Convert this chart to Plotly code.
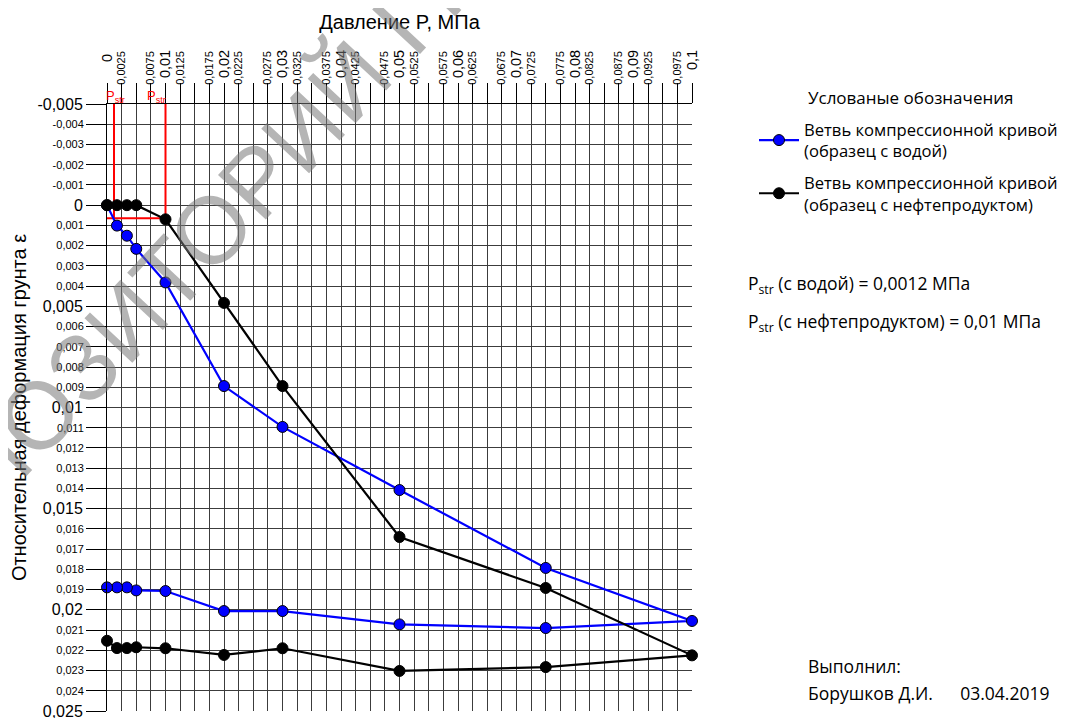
import plotly.graph_objects as go

# ---------------- data ----------------
pressure = [0, 0.0017, 0.0034, 0.005, 0.01, 0.02, 0.03, 0.05, 0.075, 0.1,
            0.075, 0.05, 0.03, 0.02, 0.01, 0.005, 0.0034, 0.0017, 0]
eps_water = [0, 0.00101, 0.00151, 0.00216, 0.00382, 0.00894, 0.01096, 0.01408, 0.01793, 0.02055,
             0.0209, 0.02072, 0.02006, 0.02006, 0.01907, 0.01904, 0.01889, 0.01889, 0.01889]
eps_oil = [0, 0, 0, 0, 0.0007, 0.00483, 0.00894, 0.0164, 0.01892, 0.02225,
           0.02283, 0.02302, 0.0219, 0.02223, 0.0219, 0.02185, 0.02189, 0.02189, 0.02153]

pstr_water = 0.0012
pstr_oil = 0.01
pstr_eps = 0.00065

name_water = "Ветвь компрессионной кривой<br>(образец с водой)"
name_oil = "Ветвь компрессионной кривой<br>(образец с нефтепродуктом)"

x_title = "Давление P, МПа"
y_title = "Относительная деформация грунта ε"

# tick definitions
x_ticks = [round(i * 0.0025, 4) for i in range(41)]
y_ticks = [round(-0.005 + i * 0.001, 3) for i in range(31)]


def fmt(v):
    s = ("%.4f" % v).rstrip("0").rstrip(".")
    if s in ("-0", ""):
        s = "0"
    return s.replace(".", ",")


x_small_text = [fmt(v) if (i % 2 == 1) else "" for i, v in enumerate(x_ticks)]
x_big_vals = [v for i, v in enumerate(x_ticks) if i % 4 == 0]
x_big_text = []
for v in x_big_vals:
    t = fmt(v)
    pad = {1: 4, 3: 2}.get(len(t), 0)
    x_big_text.append("\u00a0" * pad + t)

y_small_text = [("" if (i % 5 == 0) else fmt(v)) for i, v in enumerate(y_ticks)]
y_big_vals = [v for i, v in enumerate(y_ticks) if i % 5 == 0]
y_big_text = [fmt(v) for v in y_big_vals]

# ---------------- layout geometry helpers ----------------
# the page body has an 8px margin; figure is sized so the plot lands where the reference has it
OFF = 8
W, H = 1071 - OFF, 718 - OFF
L, T = 107 - OFF, 104 - OFF
PW, PH = 585, 607
R, B = W - L - PW, H - T - PH


def px(xpix):  # page pixel -> paper x
    return (xpix - OFF - L) / PW


def py(ypix):  # page pixel -> paper y
    return (T + PH - (ypix - OFF)) / PH


AX_FONT = "Liberation Sans, Arial, sans-serif"
TXT_FONT = "Open Sans, sans-serif"

fig = go.Figure()

# Pstr marker lines (red)
fig.add_trace(go.Scatter(x=[pstr_water, pstr_water], y=[-0.005, pstr_eps], mode="lines",
                         line=dict(color="#ff0000", width=2), showlegend=False, hoverinfo="skip"))
fig.add_trace(go.Scatter(x=[pstr_oil, pstr_oil], y=[-0.005, pstr_eps], mode="lines",
                         line=dict(color="#ff0000", width=2), showlegend=False, hoverinfo="skip"))
fig.add_trace(go.Scatter(x=[0, pstr_oil], y=[pstr_eps, pstr_eps], mode="lines",
                         line=dict(color="#ff0000", width=2), showlegend=False, hoverinfo="skip",
                         cliponaxis=False))

fig.add_trace(go.Scatter(x=pressure, y=eps_water, mode="lines+markers", name=name_water,
                         legendgroup="w",
                         line=dict(color="#0000ff", width=2.2),
                         marker=dict(size=11, color="#0000ff", line=dict(color="#000000", width=1)),
                         cliponaxis=False))
fig.add_trace(go.Scatter(x=pressure, y=eps_oil, mode="lines+markers", name=name_oil,
                         legendgroup="o",
                         line=dict(color="#000000", width=2.2),
                         marker=dict(size=11, color="#000000", line=dict(color="#000000", width=1)),
                         cliponaxis=False))

# helper trace for the overlay axes
fig.add_trace(go.Scatter(x=[None], y=[None], xaxis="x2", yaxis="y2", showlegend=False,
                         hoverinfo="skip"))

grid_col = "#3c3c3c"

fig.update_layout(
    width=W, height=H,
    margin=dict(l=L, r=R, t=T, b=B, autoexpand=False),
    paper_bgcolor="white", plot_bgcolor="white",
    showlegend=True,
    xaxis=dict(side="top", range=[0, 0.1], tickmode="array", tickvals=x_ticks,
               ticktext=x_small_text, tickangle=-90, ticks="outside", ticklen=20,
               tickcolor="#000000", tickwidth=1, ticklabelstandoff=-4,
               ticklabeloverflow="allow",
               tickfont=dict(family=AX_FONT, size=11, color="#000000"),
               showgrid=True, gridcolor=grid_col, gridwidth=1, zeroline=False,
               showline=True, linecolor="#000000", linewidth=1,
               title=dict(text=x_title, font=dict(family=AX_FONT, size=20, color="#000000"),
                          standoff=16),
               automargin=False),
    xaxis2=dict(side="top", overlaying="x", range=[0, 0.1], tickmode="array",
                tickvals=x_big_vals, ticktext=x_big_text, tickangle=-90, ticks="outside",
                ticklen=20, tickcolor="rgba(0,0,0,0)", ticklabelstandoff=2,
                ticklabeloverflow="allow",
                tickfont=dict(family=AX_FONT, size=14.5, color="#000000"),
                showgrid=False, zeroline=False, showline=False, automargin=False),
    yaxis=dict(range=[0.025, -0.005], tickmode="array", tickvals=y_ticks, ticktext=y_small_text,
               ticks="outside", ticklen=20, tickcolor="#000000", tickwidth=1,
               ticklabeloverflow="allow",
               tickfont=dict(family=AX_FONT, size=11, color="#000000"),
               showgrid=True, gridcolor=grid_col, gridwidth=1, zeroline=False,
               showline=True, linecolor="#000000", linewidth=1,
               title=dict(text=y_title, font=dict(family=AX_FONT, size=20, color="#000000"),
                          standoff=30),
               automargin=False),
    yaxis2=dict(range=[0.025, -0.005], overlaying="y", side="left", tickmode="array",
                tickvals=y_big_vals, ticktext=y_big_text, ticks="outside", ticklen=20,
                tickcolor="rgba(0,0,0,0)", ticklabeloverflow="allow",
                tickfont=dict(family=AX_FONT, size=16, color="#000000"),
                showgrid=False, zeroline=False, showline=False, automargin=False),
    legend=dict(x=px(754), y=py(112), xanchor="left", yanchor="top",
                font=dict(family=TXT_FONT, size=16.6, color="#000000"),
                itemwidth=40, tracegroupgap=7, bgcolor="rgba(0,0,0,0)"),
)

ann = []
TXT = dict(family=TXT_FONT, size=17.5, color="#000000")
# legend heading
ann.append(dict(text="Услованые обозначения", x=px(806), y=py(98), xref="paper", yref="paper",
                xanchor="left", yanchor="middle", showarrow=False,
                font=dict(family=TXT_FONT, size=17, color="#000000")))
ann.append(dict(text="P<sub>str</sub> (с водой) = 0,0012 МПа", x=px(746), y=py(284),
                xref="paper", yref="paper", xanchor="left", yanchor="middle", showarrow=False,
                font=TXT))
ann.append(dict(text="P<sub>str</sub> (с нефтепродуктом) = 0,01 МПа", x=px(746), y=py(322),
                xref="paper", yref="paper", xanchor="left", yanchor="middle", showarrow=False,
                font=TXT))
ann.append(dict(text="Выполнил:", x=px(806), y=py(666), xref="paper", yref="paper",
                xanchor="left", yanchor="middle", showarrow=False, font=TXT))
ann.append(dict(text="Борушков Д.И." + "\u00a0" * 6 + "03.04.2019",
                x=px(806), y=py(693), xref="paper", yref="paper",
                xanchor="left", yanchor="middle", showarrow=False, font=TXT))
# Pstr labels on the top edge
ann.append(dict(text="P<sub>str</sub>", x=0, y=1, xref="x", yref="paper",
                xanchor="left", yanchor="bottom", showarrow=False, yshift=-3, xshift=-3,
                font=dict(family=AX_FONT, size=13, color="#ff0000")))
ann.append(dict(text="P<sub>str</sub>", x=pstr_oil, y=1, xref="x", yref="paper",
                xanchor="right", yanchor="bottom", showarrow=False, yshift=-3, xshift=2,
                font=dict(family=AX_FONT, size=13, color="#ff0000")))
# watermark
ann.append(dict(text="РЕПОЗИТОРИЙ ГГТУ", x=px(211), y=py(230), xref="paper", yref="paper",
                xanchor="center", yanchor="middle", showarrow=False, textangle=-47,
                font=dict(family=AX_FONT, size=95, color="rgba(120,120,120,0.55)")))
fig.update_layout(annotations=ann)

fig.write_html("out.html")
